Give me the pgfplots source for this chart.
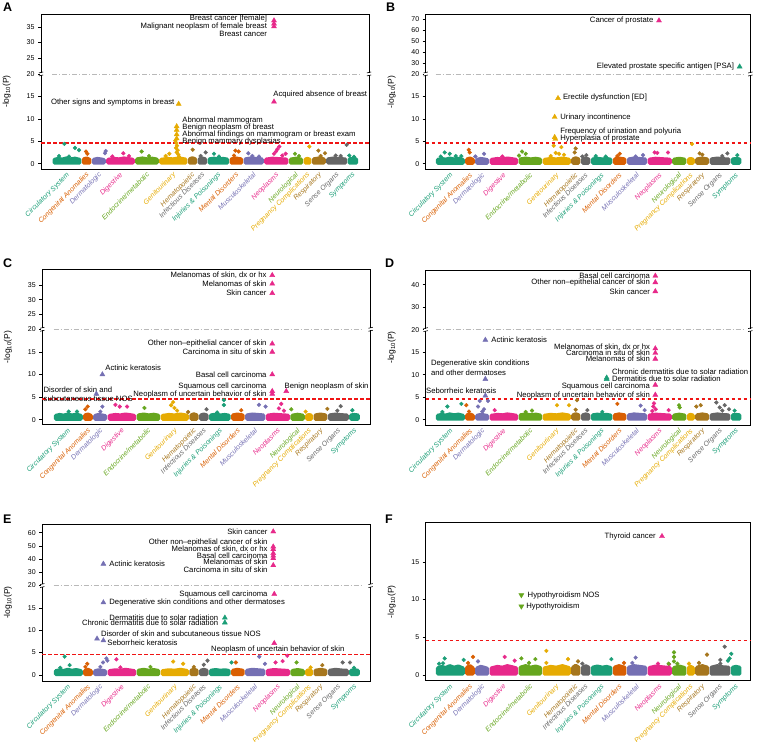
\documentclass[border=0pt]{standalone}
\usepackage{pgfplots}
\pgfplotsset{compat=1.18}
\usepackage{fontspec}
\setmainfont{Liberation Sans}
\definecolor{dteal}{HTML}{1B9E77}
\definecolor{dorange}{HTML}{D95F02}
\definecolor{dpurple}{HTML}{7570B3}
\definecolor{dpink}{HTML}{E7298A}
\definecolor{dgreen}{HTML}{66A61E}
\definecolor{dyellow}{HTML}{E6AB02}
\definecolor{dbrown}{HTML}{A6761D}
\definecolor{dgrey}{HTML}{666666}
\definecolor{thr}{RGB}{240,20,20}
\tikzset{ann/.style={font=\fontsize{7.7}{8.5}\selectfont, inner sep=0.5pt},
 plet/.style={anchor=north west, inner sep=0pt, font=\fontsize{12.5}{13}\selectfont\bfseries}}
\pgfplotsset{
 band/.style={fill=#1, draw=#1, line width=3.6pt, line join=round, line cap=round, mark=none, forget plot},
 dot/.style={only marks, mark=*, mark size=1.9pt, color=#1, mark options={draw=none}, forget plot},
 tri/.style={only marks, mark=triangle*, mark size=2.9pt, color=#1, mark options={draw=none}, forget plot},
 dtri/.style={only marks, mark=triangle*, mark size=2.9pt, color=#1, mark options={draw=none, rotate=180}, forget plot},
 brk/.style={y coord trafo/.code={\pgfmathparse{(##1>20)?(20+(##1-20)*#1):(##1)}}},
 common/.style={scale only axis, clip=false, anchor=south west,
  axis line style={line width=0.9pt},
  ytick pos=left, tick align=outside, major tick length=3pt,
  ytick style={line width=0.5pt, black},
  xtick={44,103,140,204,284,363,420,450,498,552,604,672,731,765,800,853,901},
  xticklabels={\textcolor{dteal}{Circulatory System},\textcolor{dorange}{Congenital Anomalies},\textcolor{dpurple}{Dermatologic},\textcolor{dpink}{Digestive},\textcolor{dgreen}{Endocrine/metabolic},\textcolor{dyellow}{Genitourinary},\textcolor{dbrown}{Hematopoietic},\textcolor{dgrey}{Infectious Diseases},\textcolor{dteal}{Injuries \& Poisonings},\textcolor{dorange}{Mental Disorders},\textcolor{dpurple}{Musculoskeletal},\textcolor{dpink}{Neoplasms},\textcolor{dgreen}{Neurological},\textcolor{dyellow}{Pregnancy Complications},\textcolor{dbrown}{Respiratory},\textcolor{dgrey}{Sense Organs},\textcolor{dteal}{Symptoms}},
  xtick style={draw=none},
  xticklabel style={rotate=45, anchor=north east, font=\fontsize{7}{7.5}\selectfont\itshape, inner sep=0.5pt, yshift=1.5pt},
  yticklabel style={font=\fontsize{7}{7.5}\selectfont},
  /pgf/number format/assume math mode=true,
  ylabel={-log\textsubscript{10}(P)},
  ylabel style={at={(axis description cs:-0.105,0.5)}, anchor=center, font=\fontsize{8.5}{9}\selectfont},
 },
 leftc/.style={common, xmin=-34, xmax=950},
 rightc/.style={common, xmin=-30, xmax=944},
}
\newcommand\bands{%
\addplot[band=dteal] coordinates {(6,0.15)(6,0.9)(18,1.1)(30,0.95)(42,1.2)(55,1.0)(68,1.15)(82,0.9)(82,0.15)(6,0.15)};
\addplot[band=dorange] coordinates {(94,0.15)(94,1.0)(103,1.2)(112,0.9)(112,0.15)(94,0.15)};
\addplot[band=dpurple] coordinates {(124,0.15)(124,0.9)(135,1.1)(145,1.0)(155,0.85)(155,0.15)(124,0.15)};
\addplot[band=dpink] coordinates {(167,0.15)(167,0.9)(185,1.1)(200,1.0)(215,1.2)(230,1.05)(242,0.9)(242,0.15)(167,0.15)};
\addplot[band=dgreen] coordinates {(254,0.15)(254,1.0)(270,1.2)(285,1.0)(300,1.15)(314,0.95)(314,0.15)(254,0.15)};
\addplot[band=dyellow] coordinates {(326,0.15)(326,0.9)(345,1.1)(362,1.0)(380,1.2)(400,0.95)(400,0.15)(326,0.15)};
\addplot[band=dbrown] coordinates {(412,0.15)(412,1.0)(420,1.25)(429,1.0)(429,0.15)(412,0.15)};
\addplot[band=dgrey] coordinates {(441,0.15)(441,1.0)(450,1.2)(459,1.0)(459,0.15)(441,0.15)};
\addplot[band=dteal] coordinates {(471,0.15)(471,1.0)(485,1.15)(500,1.0)(513,1.1)(525,0.95)(525,0.15)(471,0.15)};
\addplot[band=dorange] coordinates {(537,0.15)(537,1.0)(550,1.2)(567,1.0)(567,0.15)(537,0.15)};
\addplot[band=dpurple] coordinates {(579,0.15)(579,1.0)(595,1.2)(612,1.1)(629,1.0)(629,0.15)(579,0.15)};
\addplot[band=dpink] coordinates {(641,0.15)(641,0.95)(660,1.15)(680,1.05)(703,0.95)(703,0.15)(641,0.15)};
\addplot[band=dgreen] coordinates {(715,0.15)(715,0.95)(731,1.15)(747,0.95)(747,0.15)(715,0.15)};
\addplot[band=dyellow] coordinates {(759,0.15)(759,0.95)(765,1.1)(772,0.95)(772,0.15)(759,0.15)};
\addplot[band=dbrown] coordinates {(784,0.15)(784,1.0)(800,1.2)(815,1.0)(815,0.15)(784,0.15)};
\addplot[band=dgrey] coordinates {(827,0.15)(827,1.0)(845,1.2)(862,1.05)(879,1.0)(879,0.15)(827,0.15)};
\addplot[band=dteal] coordinates {(891,0.15)(891,1.0)(901,1.1)(912,1.0)(912,0.15)(891,0.15)};
}
% #1 xmin, #2 xmax
\newcommand\brkmarks[2]{%
\draw[gray!55, line width=0.7pt, dash pattern=on 5pt off 2pt on 1pt off 2pt] (axis cs:0,20) -- (axis cs:928,20);
\node[fill=white, inner sep=0pt, minimum width=3pt, minimum height=2.2pt] at (axis cs:#1,20) {};
\node[fill=white, inner sep=0pt, minimum width=3pt, minimum height=2.2pt] at (axis cs:#2,20) {};
\draw[line width=0.6pt] (axis cs:#1,20) ++(-2.2pt,-2.0pt) -- ++(4.4pt,1.0pt);
\draw[line width=0.6pt] (axis cs:#1,20) ++(-2.2pt,1.0pt) -- ++(4.4pt,1.0pt);
\draw[line width=0.6pt] (axis cs:#2,20) ++(-2.2pt,-2.0pt) -- ++(4.4pt,1.0pt);
\draw[line width=0.6pt] (axis cs:#2,20) ++(-2.2pt,1.0pt) -- ++(4.4pt,1.0pt);
}
% #1 xmin, #2 xmax, #3 threshold
\newcommand\redline[3]{\draw[draw=thr, line width=1.6pt, dash pattern=on 3.6pt off 2.4pt] (axis cs:#1,#3) -- (axis cs:#2,#3);}
\begin{document}
\begin{tikzpicture}
\useasboundingbox (0,0) rectangle (757pt,741pt);
\node[plet] at (3pt,738pt) {A};
\node[plet] at (386pt,738pt) {B};
\node[plet] at (3pt,482pt) {C};
\node[plet] at (385pt,482pt) {D};
\node[plet] at (3pt,226pt) {E};
\node[plet] at (385pt,226pt) {F};
% ---------------- A
\begin{axis}[leftc, brk=0.70, at={(41pt,572pt)}, width=328pt, height=155pt,
 ymin=-1.2, ymax=39.1, ytick={0,5,10,15,20,25,30,35}, yticklabels={0,5,10,15,20,25,30,35}]
\bands
\addplot[dot=dteal] coordinates {(36,4.4)(68,3.5)(80,3.0)(20,1.7)(50,1.6)(485,2.2)(500,1.6)(891,1.8)(905,1.5)};
\addplot[dot=dorange] coordinates {(101,2.7)(105,2.2)(549,2.9)(559,2.7)(545,1.8)};
\addplot[dot=dpurple] coordinates {(160,2.8)(158,2.3)(588,2.3)(600,1.7)(620,1.6)};
\addplot[dot=dpink] coordinates {(213,2.3)(180,1.6)(230,1.7)(681,3.8)(671,2.7)(665,2.2)(700,2.2)(675,3.2)(690,1.8)};
\addplot[dot=dgreen] coordinates {(268,2.7)(290,1.7)(728,2.2)(740,1.7)};
\addplot[dot=dyellow] coordinates {(351,2.2)(771,3.8)(340,1.7)(372,4.6)(374,4.0)(371,3.5)(376,3.0)(373,2.5)(378,2.0)(380,1.6)(369,5.1)};
\addplot[dot=dbrown] coordinates {(421,3.1)(798,2.9)(818,2.3)(805,1.7)};
\addplot[dot=dgrey] coordinates {(460,2.5)(883,4.2)(445,1.7)(850,1.8)(865,1.7)};
\addplot[tri=dpink] coordinates {(665,37.0)(665,36.0)(665,35.1)(665,13.8)};
\addplot[tri=dyellow] coordinates {(379,13.3)(373,8.3)(373,7.5)(373,6.5)(373,5.6)};
\redline{-34}{950}{4.60}
\brkmarks{-34}{950}
\node[ann, anchor=east] at (axis cs:646,37.55) {Breast cancer [female]};
\node[ann, anchor=east] at (axis cs:646,35.1) {Malignant neoplasm of female breast};
\node[ann, anchor=east] at (axis cs:646,32.9) {Breast cancer};
\node[ann, anchor=east] at (axis cs:368,13.7) {Other signs and symptoms in breast};
\node[ann, anchor=west] at (axis cs:661,15.4) {Acquired absence of breast};
\node[ann, anchor=west] at (axis cs:388,9.65) {Abnormal mammogram};
\node[ann, anchor=west] at (axis cs:388,8.1) {Benign neoplasm of breast};
\node[ann, anchor=west] at (axis cs:388,6.5) {Abnormal findings on mammogram or breast exam};
\node[ann, anchor=west] at (axis cs:388,5.0) {Benign mammary dysplasias};
\end{axis}
% ---------------- B
\begin{axis}[rightc, brk=0.244, at={(425.7pt,571.7pt)}, width=324.6pt, height=154.6pt,
 ymin=-1.25, ymax=74.2, ytick={0,5,10,15,20,30,40,50,60,70}, yticklabels={0,5,10,15,20,30,40,50,60,70}]
\bands
\addplot[dot=dteal] coordinates {(27,2.5)(42,2.2)(77,1.7)(15,1.6)(60,1.7)(905,1.9)(480,1.7)(510,1.6)};
\addplot[dot=dorange] coordinates {(99,3.1)(102,2.5)(552,2.2)(545,1.7)};
\addplot[dot=dpurple] coordinates {(119,1.6)(145,2.2)(622,1.9)(600,1.6)};
\addplot[dot=dpink] coordinates {(657,2.5)(697,2.5)(200,1.6)(665,2.4)};
\addplot[dot=dgreen] coordinates {(259,2.7)(270,2.2)(250,1.8)};
\addplot[dot=dyellow] coordinates {(354,4.0)(377,3.7)(769,4.4)(360,2.4)(370,2.2)(385,2.0)(345,1.7)};
\addplot[dot=dbrown] coordinates {(420,3.4)(417,2.5)(792,2.3)(800,2.0)};
\addplot[dot=dgrey] coordinates {(452,1.9)(875,2.3)(440,1.6)(860,1.7)};
\addplot[tri=dpink] coordinates {(670,68.8)};
\addplot[tri=dteal] coordinates {(912,26.7)};
\addplot[tri=dyellow] coordinates {(367,14.6)(357,10.4)(357,5.9)(359,5.5)};
\redline{-30}{944}{4.61}
\brkmarks{-30}{944}
\node[ann, anchor=east] at (axis cs:655,68.8) {Cancer of prostate};
\node[ann, anchor=east] at (axis cs:897,26.7) {Elevated prostate specific antigen [PSA]};
\node[ann, anchor=west] at (axis cs:380,14.7) {Erectile dysfunction [ED]};
\node[ann, anchor=west] at (axis cs:372,10.4) {Urinary incontinence};
\node[ann, anchor=west] at (axis cs:372,7.2) {Frequency of urination and polyuria};
\node[ann, anchor=west] at (axis cs:372,5.7) {Hyperplasia of prostate};
\end{axis}
% ---------------- C
\begin{axis}[leftc, brk=0.653, at={(42.3pt,316.3pt)}, width=328.4pt, height=155.4pt,
 ymin=-1.1, ymax=40.3, ytick={0,5,10,15,20,25,30,35}, yticklabels={0,5,10,15,20,25,30,35}]
\bands
\addplot[dot=dteal] coordinates {(45,1.8)(70,1.8)(510,4.35)(510,3.25)(895,2.1)(490,1.6)};
\addplot[dot=dorange] coordinates {(102,2.9)(562,2.1)(95,2.3)};
\addplot[dot=dpurple] coordinates {(146,2.9)(615,3.3)(635,2.9)(140,1.8)};
\addplot[dot=dpink] coordinates {(185,3.3)(198,2.9)(220,2.9)(682,3.5)(675,2.5)(690,2.0)};
\addplot[dot=dgreen] coordinates {(272,2.6)(712,2.3)};
\addplot[dot=dyellow] coordinates {(358,3.9)(352,3.2)(362,2.6)(755,1.8)(370,2.0)};
\addplot[dot=dbrown] coordinates {(403,1.7)(820,2.4)};
\addplot[dot=dgrey] coordinates {(458,2.3)(860,3.0)(850,2.0)};
\addplot[tri=dpink] coordinates {(655,38.3)(655,35.4)(655,32.2)(655,16.8)(655,15.0)(655,10.0)(655,6.3)(655,5.7)(697,6.3)};
\addplot[tri=dpurple] coordinates {(146,10.0)(128,5.7)};
\redline{-34}{950}{4.56}
\brkmarks{-34}{950}
\node[ann, anchor=east] at (axis cs:640,38.3) {Melanomas of skin, dx or hx};
\node[ann, anchor=east] at (axis cs:640,35.4) {Melanomas of skin};
\node[ann, anchor=east] at (axis cs:640,32.2) {Skin cancer};
\node[ann, anchor=east] at (axis cs:640,16.8) {Other non–epithelial cancer of skin};
\node[ann, anchor=east] at (axis cs:640,15.0) {Carcinoma in situ of skin};
\node[ann, anchor=east] at (axis cs:640,10.0) {Basal cell carcinoma};
\node[ann, anchor=east] at (axis cs:640,7.3) {Squamous cell carcinoma};
\node[ann, anchor=east] at (axis cs:640,5.6) {Neoplasm of uncertain behavior of skin};
\node[ann, anchor=west] at (axis cs:690,7.45) {Benign neoplasm of skin};
\node[ann, anchor=west] at (axis cs:153,11.5) {Actinic keratosis};
\node[ann, anchor=west] at (axis cs:-32,6.7) {Disorder of skin and};
\node[ann, anchor=west] at (axis cs:-32,4.65) {subcutaneous tissue NOS};
\end{axis}
% ---------------- D
\begin{axis}[rightc, brk=0.5, at={(425.7pt,316pt)}, width=324.6pt, height=155pt,
 ymin=-1.2, ymax=46.5, ytick={0,5,10,15,20,30,40}, yticklabels={0,5,10,15,20,30,40}]
\bands
\addplot[dot=dteal] coordinates {(35,2.9)(77,3.5)(897,2.0)(20,1.7)(500,1.7)};
\addplot[dot=dorange] coordinates {(92,3.2)(545,3.5)(100,1.8)};
\addplot[dot=dpurple] coordinates {(132,4.15)(157,4.15)(127,2.9)(145,2.3)(615,3.1)(627,2.1)(140,1.8)};
\addplot[dot=dpink] coordinates {(177,2.1)(653,2.9)(655,3.6)(699,2.1)(660,2.3)(650,1.9)};
\addplot[dot=dgreen] coordinates {(289,2.0)(730,3.2)(732,2.7)(270,1.7)};
\addplot[dot=dyellow] coordinates {(364,3.2)(400,3.2)};
\addplot[dot=dbrown] coordinates {(424,4.3)(782,2.9)(795,3.2)(420,2.2)};
\addplot[dot=dgrey] coordinates {(455,2.1)(842,3.8)(852,2.7)(867,3.2)(880,2.3)(860,2.0)};
\addplot[tri=dpink] coordinates {(659,43.9)(659,41.0)(659,37.0)(659,15.8)(659,14.8)(659,13.5)(659,7.7)(659,5.5)};
\addplot[tri=dpurple] coordinates {(149,17.7)(149,9.0)(149,5.3)};
\addplot[tri=dteal] coordinates {(513,9.3)(513,9.0)};
\redline{-30}{944}{4.56}
\brkmarks{-30}{944}
\node[ann, anchor=east] at (axis cs:645,43.9) {Basal cell carcinoma};
\node[ann, anchor=east] at (axis cs:645,41.0) {Other non–epithelial cancer of skin};
\node[ann, anchor=east] at (axis cs:645,37.0) {Skin cancer};
\node[ann, anchor=west] at (axis cs:165,17.7) {Actinic keratosis};
\node[ann, anchor=east] at (axis cs:645,16.2) {Melanomas of skin, dx or hx};
\node[ann, anchor=east] at (axis cs:645,14.8) {Carcinoma in situ of skin};
\node[ann, anchor=east] at (axis cs:645,13.5) {Melanomas of skin};
\node[ann, anchor=west] at (axis cs:-16,12.5) {Degenerative skin conditions};
\node[ann, anchor=west] at (axis cs:-16,10.4) {and other dermatoses};
\node[ann, anchor=west] at (axis cs:527,10.6) {Chronic dermatitis due to solar radiation};
\node[ann, anchor=west] at (axis cs:527,9.1) {Dermatitis due to solar radiation};
\node[ann, anchor=east] at (axis cs:645,7.4) {Squamous cell carcinoma};
\node[ann, anchor=east] at (axis cs:645,5.4) {Neoplasm of uncertain behavior of skin};
\node[ann, anchor=east] at (axis cs:184,6.5) {Seborrheic keratosis};
\end{axis}
% ---------------- E
\begin{axis}[leftc, brk=0.296, at={(42.3pt,60pt)}, width=328.4pt, height=156.7pt,
 ymin=-1.35, ymax=66.3, ytick={0,5,10,15,20,30,40,50,60}, yticklabels={0,5,10,15,20,30,40,50,60}]
\bands
\addplot[dot=dteal] coordinates {(33,4.1)(48,2.2)(533,2.8)(20,1.6)(900,1.6)};
\addplot[dot=dorange] coordinates {(101,2.5)(546,2.8)(95,1.8)};
\addplot[dot=dpurple] coordinates {(158,3.7)(161,3.2)(148,2.8)(616,4.1)(633,2.5)(140,1.8)};
\addplot[dot=dpink] coordinates {(188,3.5)(665,2.8)(686,3.1)(700,4.3)(200,1.7)};
\addplot[dot=dgreen] coordinates {(728,2.8)(290,1.8)};
\addplot[dot=dyellow] coordinates {(358,3.0)(388,2.5)(770,1.7)};
\addplot[dot=dbrown] coordinates {(805,2.2)(420,1.8)};
\addplot[dot=dgrey] coordinates {(461,3.2)(866,2.8)(888,2.8)(450,2.3)};
\addplot[tri=dpink] coordinates {(658,60.8)(658,49.4)(658,47.4)(658,44.4)(658,42.5)(658,40.6)(658,35.3)(661,18.1)(661,7.1)};
\addplot[tri=dpurple] coordinates {(149,36.4)(149,16.2)(130,8.1)(149,7.7)};
\addplot[tri=dteal] coordinates {(513,12.8)(513,11.7)};
\redline{-34}{950}{4.56}
\brkmarks{-34}{950}
\node[ann, anchor=east] at (axis cs:643,60.3) {Skin cancer};
\node[ann, anchor=east] at (axis cs:643,52.7) {Other non–epithelial cancer of skin};
\node[ann, anchor=east] at (axis cs:643,47.7) {Melanomas of skin, dx or hx};
\node[ann, anchor=east] at (axis cs:643,42.9) {Basal cell carcinoma};
\node[ann, anchor=east] at (axis cs:643,38.1) {Melanomas of skin};
\node[ann, anchor=east] at (axis cs:643,31.8) {Carcinoma in situ of skin};
\node[ann, anchor=west] at (axis cs:165,36.4) {Actinic keratosis};
\node[ann, anchor=east] at (axis cs:643,18.0) {Squamous cell carcinoma};
\node[ann, anchor=west] at (axis cs:165,16.2) {Degenerative skin conditions and other dermatoses};
\node[ann, anchor=east] at (axis cs:495,12.8) {Dermatitis due to solar radiation};
\node[ann, anchor=east] at (axis cs:495,11.6) {Chronic dermatitis due to solar radiation};
\node[ann, anchor=west] at (axis cs:140,9.2) {Disorder of skin and subcutaneous tissue NOS};
\node[ann, anchor=west] at (axis cs:159,7.1) {Seborrheic keratosis};
\node[ann, anchor=west] at (axis cs:470,5.7) {Neoplasm of uncertain behavior of skin};
\end{axis}
% ---------------- F
\begin{axis}[rightc, at={(425.7pt,60.3pt)}, width=324.6pt, height=158pt,
 ymin=-0.76, ymax=20.2, ytick={0,5,10,15}, yticklabels={0,5,10,15}]
\bands
\addplot[dot=dteal] coordinates {(22,1.55)(27,2.2)(84,2.0)(527,2.1)(887,2.8)(882,2.2)(877,1.9)(10,1.5)};
\addplot[dot=dorange] coordinates {(112,2.4)(97,1.6)(565,1.6)};
\addplot[dot=dpurple] coordinates {(127,1.8)(600,2.3)(590,1.6)};
\addplot[dot=dpink] coordinates {(207,2.4)(237,1.9)(667,1.5)(700,1.4)};
\addplot[dot=dgreen] coordinates {(299,2.1)(257,2.2)(715,3.0)(715,2.4)(715,1.8)(699,1.5)(725,1.5)(280,1.6)};
\addplot[dot=dyellow] coordinates {(332,3.2)(332,1.6)(397,2.1)(760,1.5)};
\addplot[dot=dbrown] coordinates {(427,1.8)(814,2.7)(790,1.6)};
\addplot[dot=dgrey] coordinates {(854,2.0)(854,1.5)(867,3.75)(440,1.5)};
\addplot[tri=dpink] coordinates {(679,18.4)};
\addplot[dtri=dgreen] coordinates {(257,10.6)(257,9.1)};
\redline{-30}{944}{4.56}
\node[ann, anchor=east] at (axis cs:662,18.4) {Thyroid cancer};
\node[ann, anchor=west] at (axis cs:274,10.6) {Hypothyroidism NOS};
\node[ann, anchor=west] at (axis cs:270,9.1) {Hypothyroidism};
\end{axis}
\end{tikzpicture}
\end{document}
